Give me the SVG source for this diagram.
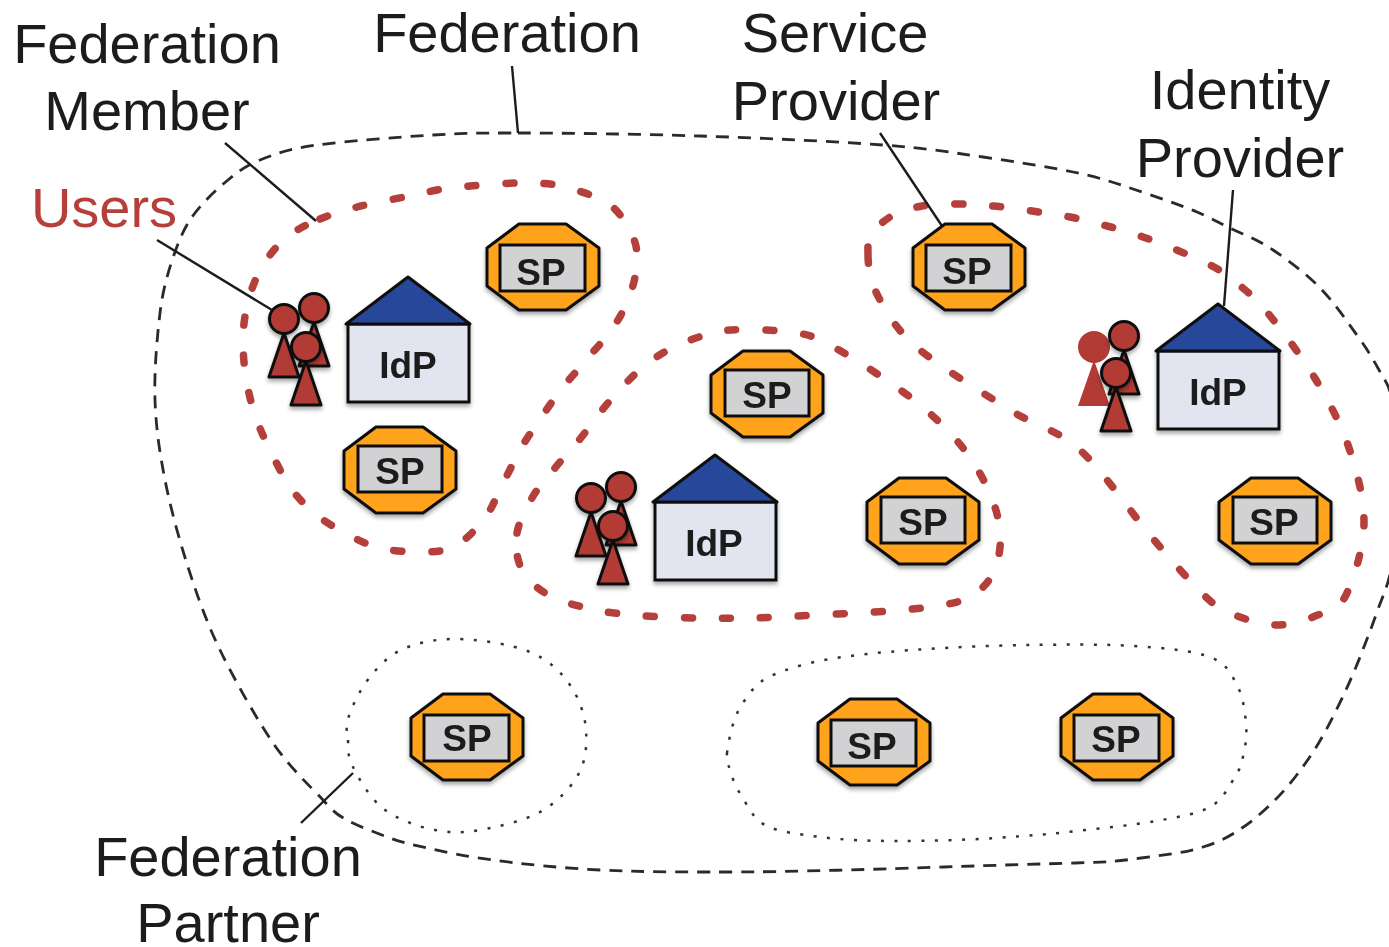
<svg xmlns="http://www.w3.org/2000/svg" width="1389" height="947" viewBox="0 0 1389 947">
<style>
text{font-family:"Liberation Sans",Arial,sans-serif;text-anchor:middle}
.lab{font-size:56px;fill:#1c1c1c}
.node{font-size:37px;font-weight:bold;fill:#1a1a1a}
.outer{fill:none;stroke:#2a2a2a;stroke-width:2.8;stroke-dasharray:13 9}
.red{fill:none;stroke:#B5403B;stroke-width:7.5;stroke-dasharray:8 30;stroke-linecap:round}
.dot{fill:none;stroke:#333;stroke-width:2.5;stroke-dasharray:3 10.500}
.lead{fill:none;stroke:#1c1c1c;stroke-width:2.4}
.oct{fill:#FFA21C;stroke:#111;stroke-width:3;stroke-linejoin:round}
.inner{fill:#D2D2D4;stroke:#111;stroke-width:3}
.roof{fill:#27479A;stroke:#111;stroke-width:3;stroke-linejoin:round}
.box{fill:#E2E4EF;stroke:#111;stroke-width:3}
.pers{fill:#B23A35;stroke:#111;stroke-width:3;stroke-linejoin:round}
.pale{fill:#B23A35}
</style>
<defs>
<filter id="soft" x="0" y="0" width="100%" height="100%"><feGaussianBlur stdDeviation="0.6"/></filter>
<filter id="sh" x="-15%" y="-15%" width="130%" height="130%"><feDropShadow dx="0" dy="3" stdDeviation="2" flood-color="#000" flood-opacity="0.35"/></filter>
<g id="octShape"><polygon class="oct" points="-24,-43 23,-43 56,-19 56,19 23,43 -24,43 -56,19 -56,-19"/></g>
<g id="spA" filter="url(#sh)"><use href="#octShape"/><rect class="inner" x="-42" y="-24" width="84" height="46"/></g>
<g id="spB" filter="url(#sh)"><use href="#octShape"/><rect class="inner" x="-43" y="-22" width="85" height="46"/></g>
<g id="idpShape" filter="url(#sh)">
<rect class="box" x="-60" y="47" width="121" height="78"/>
<polygon class="roof" points="0,0 62,47 -62,47"/>
</g>
<g id="person" filter="url(#sh)">
<polygon points="0,14 15,58 -15,58"/>
<circle cx="0" cy="0" r="14.5"/>
</g>
</defs>
<g filter="url(#soft)">
<g id="connectors">
<path class="outer" d="M518 133C562 133 639 134 700 136S836 141.500 883 145S951 152.500 983 157S1048 167 1073 172S1112 182 1133 189S1180.500 205 1197 212S1219 223 1232 229S1258 240 1273 250S1308 275 1322 290S1346 320 1359 338S1377 367 1386 382S1401 450 1402 480S1396 543 1392 565S1382 597.500 1377 612S1367 639 1362 652S1351 679 1345 692S1332 719 1325 732S1310 757 1302 768S1285 790 1275 800S1254 820 1242 828S1222 841 1203 847S1170 854 1141 858S1108 862 1075 863S1001 865 944 867S787 872 730 872S640 872 600 870S522 864 493 860S445 852 427 848S400 842 387 837S358 826 347 820S335 813 323 800S290 768 273 743S234 679 220 650S197 595 188 567S170.500 508 165 480S156 428 155 400S157 338 160 313S169 269 175 252S186 225 195 213S217 189 228 180S245 166 260 160S288 149 317 145S400 137 433 135S474 133 518 133Z"/>
<path class="red" d="M320 219C332 214 342 211 357 207S394.500 199 410 196S432 190 450 188S501 183 520 183S550 183 565 187S599 197 610 205S627.500 226 632 235S637 250 637 260S634 284 630 295S620 317.500 613 328S596 348 588 358S571 377 563 387S548 407.500 541 418S526 439 520 450S509 472 503 483S493 507.500 485 518S466 540 455 546S432.500 552 420 552S392.500 551 380 548S356 539 345 533S322 520 313 512S297 497 290 487S276 462 270 450S259 427 255 415S248 390.500 246 378S243 353 243 340S245 314 248 302S255.500 278 262 267S277 245 287 237S308 224 320 219Z"/>
<path class="red" d="M517 533C519 521 526 509 532 498S547 478 555 468S572 449 580 439S595 419 603 409S619 390 628 381S647 363 658 356S681 343 693 339S714 331 730 330S771 329.500 788 332S808 333 830 345S896 385 920 405S962 444 975 465S998 510 1000 530S997 572 985 585S965 602 930 607S815 615 777 617S726 618 700 618S642 616 623 614S599 611 587 608S561 602 550 596S527.500 580.500 522 570S515 545 517 533Z"/>
<path class="red" d="M868 255C868 243 866 235 883 222S905 210 917 207S943 204 956 204S980 205 993 206S1019 209 1032 211S1057.500 214.500 1070 217S1095 223 1107 226S1131 233 1143 237S1167 246 1179 251S1203 261 1214 267S1234.500 281 1244 289S1259 302 1271 317S1303 358 1316 380S1341 424 1349 448S1364 497.500 1364 522S1354 579 1346 595S1324 612 1313 617S1289 625 1277 625S1252 621.500 1240 617S1222 612 1207 598S1171 560 1150 535S1103 471 1080 450S1037 427 1010 410S942 368 920 350S889 316 880 300S868 268 868 255Z"/>
<path class="dot" d="M348 740C348.500 749 347 755 353 767S371 800 385 810S419 827 435 830S463 833 480 830S524 821 540 812S570 789 578 775S587 745 586 730S579 698 570 685S549 660 530 652S476 639 455 639S417 643 403 649S379 666 370 677S354 702.500 350 713S346 729 348 740Z"/>
<path class="dot" d="M727 753C728 744 731.500 727 735.500 717S745 699.500 750 693S758 683 767 678S791 668 806 664S838 657.500 858 655S898 651 927 649S996 645.500 1030 645S1104 644 1134 646S1193 650.500 1210 657S1231 674 1237 685S1245 712 1246 723S1246 743 1244 752S1241 768 1235 777S1223 800 1210 807S1178 817 1156 821S1104 828 1077 831S1026 836 996 838S928 841 899 841S842 840 820 837S778 832 765 825S747 804 741 795S732 777 730 770S726 762 727 753Z"/>
<line class="lead" x1="512" y1="66" x2="518" y2="133"/>
<line class="lead" x1="225" y1="143" x2="316" y2="221"/>
<line class="lead" x1="157" y1="240" x2="272" y2="310"/>
<line class="lead" x1="880" y1="133" x2="942" y2="226"/>
<line class="lead" x1="1233" y1="190" x2="1224" y2="306"/>
<line class="lead" x1="301" y1="823" x2="353" y2="773"/>
</g>

<g id="sp1" transform="translate(543,267)"><use href="#spB"/><text class="node" x="-2" y="18">SP</text></g>
<g id="sp2" transform="translate(969,267)"><use href="#spB"/><text class="node" x="-2" y="17">SP</text></g>
<g id="sp3" transform="translate(400,470)"><use href="#spA"/><text class="node" y="14">SP</text></g>
<g id="sp4" transform="translate(767,394)"><use href="#spA"/><text class="node" y="14">SP</text></g>
<g id="sp5" transform="translate(923,521)"><use href="#spA"/><text class="node" y="14">SP</text></g>
<g id="sp6" transform="translate(1275,521)"><use href="#spA"/><text class="node" x="-1" y="14">SP</text></g>
<g id="sp7" transform="translate(467,737)"><use href="#spB"/><text class="node" y="14">SP</text></g>
<g id="sp8" transform="translate(874,742)"><use href="#spB"/><text class="node" x="-2" y="17">SP</text></g>
<g id="sp9" transform="translate(1117,737)"><use href="#spB"/><text class="node" x="-1" y="15">SP</text></g>

<g id="idp1" transform="translate(408,277)"><use href="#idpShape"/><text class="node" y="101">IdP</text></g>
<g id="idp2" transform="translate(715,455)"><use href="#idpShape"/><text class="node" x="-1" y="101">IdP</text></g>
<g id="idp3" transform="translate(1218,304)"><use href="#idpShape"/><text class="node" y="101">IdP</text></g>

<g id="users1" class="pers">
<use href="#person" x="314" y="308"/><use href="#person" x="284" y="319"/><use href="#person" x="306" y="347"/>
</g>
<g id="users2" class="pers">
<use href="#person" x="621" y="487"/><use href="#person" x="591" y="498"/><use href="#person" x="613" y="526"/>
</g>
<g id="users3">
<g class="pale"><polygon points="1094,360 1110,406 1078,406"/><circle cx="1094" cy="347" r="16"/></g>
<g class="pers"><use href="#person" x="1124" y="336"/><use href="#person" x="1116" y="373"/></g>
</g>

<g id="labels">
<text class="lab" x="147" y="63">Federation</text>
<text class="lab" x="147" y="130">Member</text>
<text class="lab" x="507" y="52">Federation</text>
<text class="lab" x="835" y="52">Service</text>
<text class="lab" x="836" y="120">Provider</text>
<text class="lab" x="1240" y="109">Identity</text>
<text class="lab" x="1240" y="177">Provider</text>
<text class="lab" x="104" y="227" style="fill:#B5403B">Users</text>
<text class="lab" x="228" y="876">Federation</text>
<text class="lab" x="228" y="942">Partner</text>
</g>
</g>
</svg>
